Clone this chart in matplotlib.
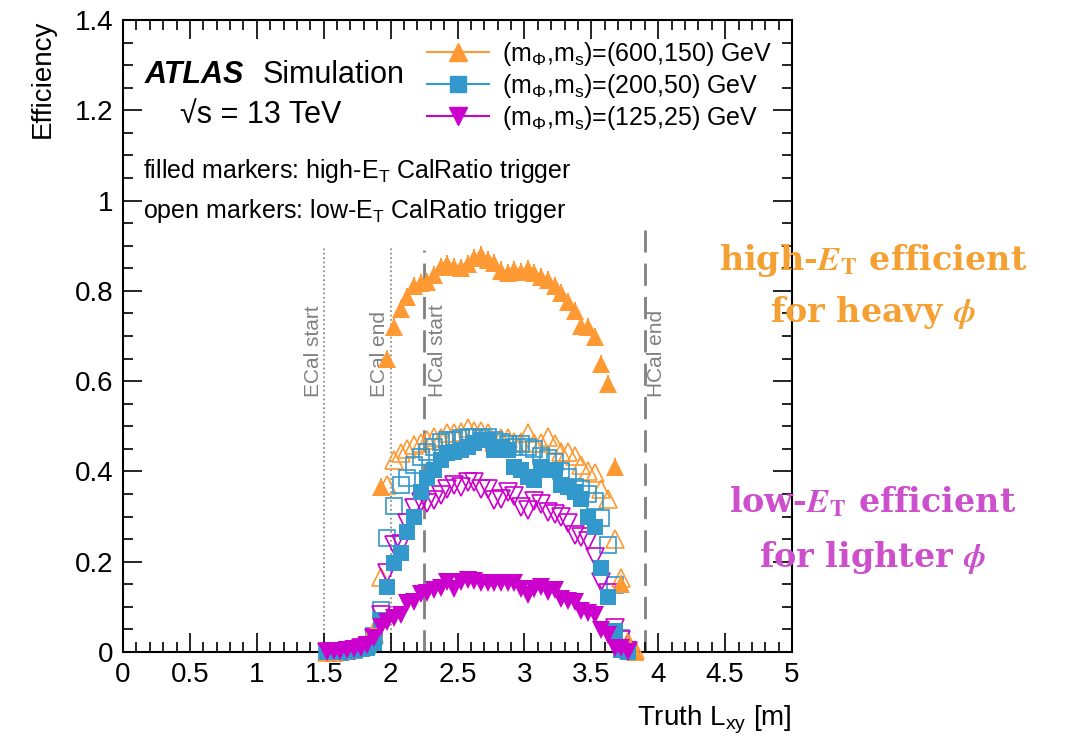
import numpy as np
import matplotlib
matplotlib.use('Agg')
import matplotlib.pyplot as plt
import matplotlib.ticker as tkr
from matplotlib.lines import Line2D

plt.rcParams['font.family'] = ['Liberation Sans', 'DejaVu Sans']
plt.rcParams['mathtext.fontset'] = 'custom'
plt.rcParams['mathtext.rm'] = 'Liberation Sans'
plt.rcParams['mathtext.it'] = 'Liberation Sans:italic'
plt.rcParams['mathtext.bf'] = 'Liberation Sans:bold'

# DATA
##############################################################################

# bin centres, truth Lxy [m]
lxy = [1.525, 1.575, 1.625, 1.675, 1.725, 1.775, 1.825, 1.875, 1.925, 1.975,
       2.025, 2.075, 2.125, 2.175, 2.225, 2.275, 2.325, 2.375, 2.425, 2.475,
       2.525, 2.575, 2.625, 2.675, 2.725, 2.775, 2.825, 2.875, 2.925, 2.975,
       3.025, 3.075, 3.125, 3.175, 3.225, 3.275, 3.325, 3.375, 3.425, 3.475,
       3.525, 3.575, 3.625, 3.675, 3.725, 3.775, 3.825]

nan = np.nan

# high-ET CalRatio trigger (filled markers)
hi_600 = [0.0, 0.0, 0.002, 0.004, 0.008, 0.012, 0.025, 0.05, 0.366, 0.65,
          0.72, 0.76, 0.787, 0.81, 0.817, 0.82, 0.835, 0.853, 0.86, 0.853,
          0.85, 0.86, 0.873, 0.88, 0.868, 0.862, 0.845, 0.84, 0.846, 0.842,
          0.848, 0.84, 0.83, 0.824, 0.81, 0.795, 0.775, 0.756, 0.722, 0.72,
          0.698, 0.638, 0.594, 0.41, 0.15, 0.02, 0.0]
hi_200 = [0.0, 0.0, 0.0, 0.002, 0.004, 0.006, 0.01, 0.02, 0.07, 0.145,
          0.197, 0.22, 0.266, 0.30, 0.355, 0.385, 0.403, 0.425, 0.44, 0.443,
          0.447, 0.455, 0.463, 0.47, 0.47, 0.447, 0.455, 0.447, 0.41, 0.403,
          0.388, 0.38, 0.41, 0.403, 0.403, 0.37, 0.366, 0.355, 0.34, 0.30,
          0.277, 0.186, 0.122, 0.047, 0.005, 0.0, nan]
hi_125 = [0.0, 0.002, 0.003, 0.004, 0.006, 0.01, 0.015, 0.03, 0.055, 0.066,
          0.075, 0.082, 0.108, 0.11, 0.128, 0.13, 0.137, 0.141, 0.155, 0.14,
          0.155, 0.16, 0.158, 0.153, 0.153, 0.153, 0.153, 0.152, 0.152, 0.14,
          0.126, 0.14, 0.145, 0.133, 0.137, 0.118, 0.112, 0.11, 0.09, 0.086,
          0.082, 0.049, 0.037, 0.01, 0.008, 0.0, nan]

# low-ET CalRatio trigger (open markers)
lo_600 = [0.0, 0.0, 0.002, 0.004, 0.008, 0.012, 0.02, 0.04, 0.166, 0.37,
          0.425, 0.44, 0.45, 0.458, 0.463, 0.47, 0.477, 0.474, 0.485, 0.485,
          0.487, 0.496, 0.49, 0.49, 0.485, 0.465, 0.474, 0.474, 0.465, 0.465,
          0.485, 0.463, 0.463, 0.477, 0.46, 0.443, 0.443, 0.434, 0.414, 0.40,
          0.396, 0.36, 0.34, 0.25, 0.163, 0.022, 0.005]
lo_200 = [0.0, 0.0, 0.001, 0.002, 0.004, 0.008, 0.015, 0.035, 0.093, 0.253,
          0.323, 0.37, 0.385, 0.414, 0.432, 0.443, 0.455, 0.465, 0.47, 0.47,
          0.474, 0.477, 0.477, 0.475, 0.477, 0.47, 0.465, 0.46, 0.455, 0.46,
          0.455, 0.45, 0.435, 0.43, 0.42, 0.40, 0.388, 0.366, 0.36, 0.35,
          0.335, 0.297, 0.237, 0.148, 0.03, 0.005, nan]
lo_125 = [0.0, 0.0, 0.001, 0.002, 0.004, 0.008, 0.012, 0.03, 0.082, 0.175,
          0.237, 0.24, 0.285, 0.318, 0.333, 0.33, 0.337, 0.348, 0.36, 0.37,
          0.366, 0.377, 0.377, 0.36, 0.36, 0.337, 0.34, 0.355, 0.345, 0.322,
          0.315, 0.335, 0.328, 0.31, 0.305, 0.298, 0.285, 0.26, 0.255, 0.245,
          0.21, 0.155, 0.13, 0.053, 0.027, 0.003, nan]

labels = [r'(m$_{\Phi}$,m$_{\mathrm{s}}$)=(600,150) GeV',
          r'(m$_{\Phi}$,m$_{\mathrm{s}}$)=(200,50) GeV',
          r'(m$_{\Phi}$,m$_{\mathrm{s}}$)=(125,25) GeV']

# detector boundaries
det_x = [1.5, 2.0, 2.25, 3.9]
det_top = [0.90, 0.90, 0.89, 0.935]
det_names = ['ECal start', 'ECal end', 'HCal start', 'HCal end']

##############################################################################

orange = '#FF9933'
blue = '#3399CC'
magenta = '#CC00CC'
grey = '#808080'

fig = plt.figure(figsize=(10.66, 7.39), dpi=100)
ax = fig.add_axes([0.1154, 0.1177, 0.6276, 0.8553])

# detector lines
for x, top, ls, lw in zip(det_x, det_top, [':', ':', (0, (8, 4)), (0, (8, 4))], [1.2, 1.2, 2, 2]):
    ax.vlines(x, 0, top, colors=grey, linestyles=ls, lw=lw, zorder=1)
for x, dx, name in zip(det_x, [-0.08, -0.08, 0.1, 0.09], det_names):
    ax.text(x + dx, 0.565, name, rotation=90, ha='center', va='bottom',
            fontsize=15, color=grey)

series_hi = [(hi_600, orange, '^', 0.02, 12.5), (hi_200, blue, 's', 0.012, 11),
             (hi_125, magenta, 'v', 0.012, 12.5)]
series_lo = [(lo_600, orange, '^', 13), (lo_200, blue, 's', 11.5), (lo_125, magenta, 'v', 13)]

# open markers: low-ET
for vals, c, m, ms in series_lo:
    ax.plot(lxy, vals, ls='none', marker=m, mfc='none', mec=c, ms=ms, mew=1.2,
            clip_on=False, zorder=3)
# filled markers: high-ET
for vals, c, m, err, ms in series_hi:
    ax.errorbar(lxy, vals, yerr=err, fmt=m, color=c, ms=ms, mec=c, mew=0,
                elinewidth=1.3, capsize=0, clip_on=False, zorder=4)

ax.set_xlim(0, 5)
ax.set_ylim(0, 1.4)
ax.xaxis.set_major_locator(tkr.MultipleLocator(0.5))
ax.xaxis.set_minor_locator(tkr.MultipleLocator(0.1))
ax.yaxis.set_major_locator(tkr.MultipleLocator(0.2))
ax.yaxis.set_minor_locator(tkr.MultipleLocator(0.05))
ax.xaxis.set_major_formatter(tkr.FuncFormatter(lambda v, _: '%g' % round(v, 2)))
ax.yaxis.set_major_formatter(tkr.FuncFormatter(lambda v, _: '%g' % round(v, 2)))
ax.tick_params(which='both', direction='in', top=True, right=True, width=1.2, labelsize=20)
ax.tick_params(which='major', length=14, pad=7)
ax.tick_params(which='minor', length=7)
for sp in ax.spines.values():
    sp.set_linewidth(1.5)

ax.set_ylabel('Efficiency', loc='top', fontsize=20)
ax.yaxis.set_label_coords(-0.10, 1.0)
ax.set_xlabel(r'Truth L$_{\mathrm{xy}}$ [m]', loc='right', fontsize=20)
ax.xaxis.set_label_coords(1.0, -0.082)

# labels
ax.text(0.164, 1.26, 'ATLAS', fontsize=22, fontweight='bold', fontstyle='italic')
ax.text(1.04, 1.26, 'Simulation', fontsize=22)
ax.text(0.426, 1.172, '\u221as = 13 TeV', fontsize=22)
ax.text(0.15, 1.05, r'filled markers: high-E$_{\mathrm{T}}$ CalRatio trigger', fontsize=18)
ax.text(0.15, 0.961, r'open markers: low-E$_{\mathrm{T}}$ CalRatio trigger', fontsize=18)

handles = [Line2D([], [], color=c, marker=m, ms=ms, lw=1.5) for _, c, m, ms in series_lo]
ax.legend(handles, labels, loc='upper left', bbox_to_anchor=(0.454, 0.968), frameon=False,
          fontsize=18, handlelength=2.5, handletextpad=0.5, labelspacing=0.15,
          borderpad=0, borderaxespad=0)

# side notes
note_kw = dict(ha='center', va='baseline', fontsize=24, fontweight='bold',
               family='DejaVu Serif', math_fontfamily='stix')
fig.text(0.819, 0.635, r'high-$\mathbfit{E}_\mathbf{T}$ efficient', color='#F5A033', **note_kw)
fig.text(0.819, 0.564, r'for heavy $\mathbfit{\phi}$', color='#F5A033', **note_kw)
fig.text(0.819, 0.307, r'low-$\mathbfit{E}_\mathbf{T}$ efficient', color='#CC4FCC', **note_kw)
fig.text(0.819, 0.233, r'for lighter $\mathbfit{\phi}$', color='#CC4FCC', **note_kw)

fig.savefig('out.png', dpi=100)
